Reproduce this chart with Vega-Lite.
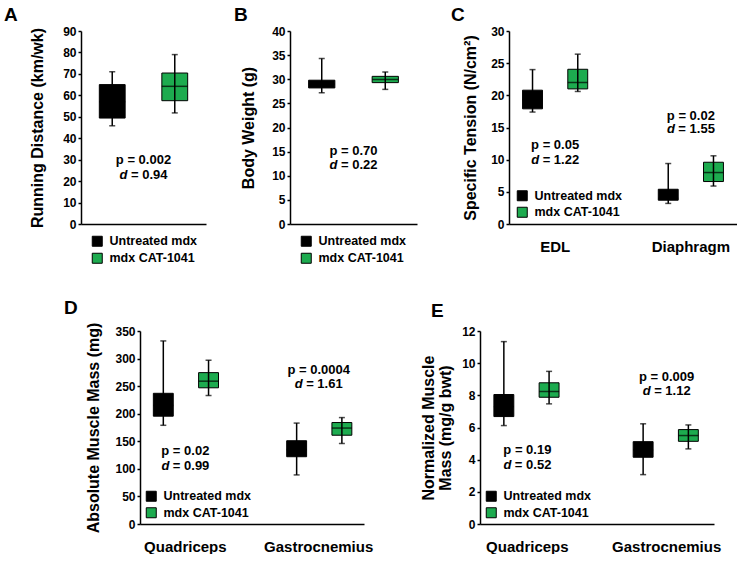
{
  "$schema": "https://vega.github.io/schema/vega-lite/v6.json",
  "padding": {"left": 1, "top": 6, "right": 0, "bottom": 0},
  "background": "white",
  "config": {
    "font": "Liberation Sans",
    "view": {"stroke": null},
    "axis": {"labelFont": "Liberation Sans", "labelFontWeight": "bold", "labelFontSize": 12, "labelColor": "black", "titleFont": "Liberation Sans", "titleFontWeight": "bold", "titleFontSize": 16, "titleColor": "black", "domainColor": "black", "tickColor": "black", "grid": false, "domainWidth": 1.5, "tickWidth": 1.5, "tickSize": 3, "labelPadding": 2, "titlePadding": 12, "titleLineHeight": 17},
    "axisX": {"labelFontSize": 15, "labelPadding": 15, "ticks": false, "labelAngle": 0},
    "legend": {"orient": "none", "title": null, "symbolType": "square", "symbolSize": 100, "symbolStrokeColor": "black", "symbolStrokeWidth": 1, "labelFontSize": 12.5, "labelFontWeight": "bold", "labelFont": "Liberation Sans", "labelColor": "black", "rowPadding": 2, "labelOffset": 6, "padding": 0, "direction": "vertical", "symbolOpacity": 1},
    "title": {"fontSize": 19, "fontWeight": "bold", "font": "Liberation Sans", "color": "black", "anchor": "start", "frame": "group"}
  },
  "datasets": {
    "boxes": [
      {"panel": "A", "cat": "all", "grp": "Untreated mdx", "lo": 45.8, "q1": 49.4, "med": 57, "q3": 65, "hi": 71},
      {"panel": "A", "cat": "all", "grp": "mdx CAT-1041", "lo": 51.8, "q1": 57.5, "med": 64.2, "q3": 70.4, "hi": 79},
      {"panel": "B", "cat": "all", "grp": "Untreated mdx", "lo": 27.2, "q1": 28.2, "med": 29, "q3": 29.8, "hi": 34.3},
      {"panel": "B", "cat": "all", "grp": "mdx CAT-1041", "lo": 27.9, "q1": 29.3, "med": 29.95, "q3": 30.6, "hi": 31.5},
      {"panel": "C", "cat": "EDL", "grp": "Untreated mdx", "lo": 17.4, "q1": 17.9, "med": 19.3, "q3": 20.8, "hi": 24.0},
      {"panel": "C", "cat": "EDL", "grp": "mdx CAT-1041", "lo": 20.6, "q1": 21.0, "med": 22.0, "q3": 24.05, "hi": 26.4},
      {"panel": "C", "cat": "Diaphragm", "grp": "Untreated mdx", "lo": 3.2, "q1": 3.7, "med": 4.0, "q3": 5.4, "hi": 9.4},
      {"panel": "C", "cat": "Diaphragm", "grp": "mdx CAT-1041", "lo": 5.9, "q1": 6.6, "med": 8.0, "q3": 9.6, "hi": 10.6},
      {"panel": "D", "cat": "Quadriceps", "grp": "Untreated mdx", "lo": 179, "q1": 195.5, "med": 215, "q3": 237, "hi": 332},
      {"panel": "D", "cat": "Quadriceps", "grp": "mdx CAT-1041", "lo": 233, "q1": 247, "med": 259, "q3": 274.5, "hi": 297},
      {"panel": "D", "cat": "Gastrocnemius", "grp": "Untreated mdx", "lo": 89, "q1": 122, "med": 135, "q3": 151, "hi": 183},
      {"panel": "D", "cat": "Gastrocnemius", "grp": "mdx CAT-1041", "lo": 146, "q1": 161, "med": 174, "q3": 184, "hi": 193},
      {"panel": "E", "cat": "Quadriceps", "grp": "Untreated mdx", "lo": 6.12, "q1": 6.68, "med": 7.3, "q3": 8.05, "hi": 11.34},
      {"panel": "E", "cat": "Quadriceps", "grp": "mdx CAT-1041", "lo": 7.47, "q1": 7.88, "med": 8.24, "q3": 8.78, "hi": 9.49},
      {"panel": "E", "cat": "Gastrocnemius", "grp": "Untreated mdx", "lo": 3.07, "q1": 4.15, "med": 4.6, "q3": 5.12, "hi": 6.23},
      {"panel": "E", "cat": "Gastrocnemius", "grp": "mdx CAT-1041", "lo": 4.67, "q1": 5.14, "med": 5.5, "q3": 5.87, "hi": 6.16}
    ],
    "notes": [
      {"panel": "A", "cat": "all", "yp": 30, "yd": 23, "p": "p = 0.002", "d": "= 0.94"},
      {"panel": "B", "cat": "all", "yp": 15.1, "yd": 12.2, "p": "p = 0.70", "d": "= 0.22"},
      {"panel": "C", "cat": "EDL", "yp": 12.3, "yd": 10.0, "p": "p = 0.05", "d": "= 1.22"},
      {"panel": "C", "cat": "Diaphragm", "yp": 16.8, "yd": 14.7, "p": "p = 0.02", "d": "= 1.55"},
      {"panel": "D", "cat": "Quadriceps", "yp": 133, "yd": 105.5, "p": "p = 0.02", "d": "= 0.99"},
      {"panel": "D", "cat": "Gastrocnemius", "yp": 279, "yd": 253.4, "p": "p = 0.0004", "d": "= 1.61"},
      {"panel": "E", "cat": "Quadriceps", "yp": 4.6, "yd": 3.65, "p": "p = 0.19", "d": "= 0.52"},
      {"panel": "E", "cat": "Gastrocnemius", "yp": 9.17, "yd": 8.26, "p": "p = 0.009", "d": "= 1.12"}
    ]
  },
  "spacing": 33,
  "resolve": {"scale": {"color": "independent"}, "legend": {"color": "independent"}},
  "vconcat": [
    {
      "bounds": "flush",
      "spacing": 0,
      "resolve": {"scale": {"color": "independent"}, "legend": {"color": "independent"}},
      "hconcat": [
        {"width": 80, "height": 10, "data": {"values": [{}]}, "mark": {"type": "point", "opacity": 0}, "encoding": {}},
        {
          "width": 125, "height": 193,
          "title": {"text": "A", "dx": -77, "offset": 0},
          "layer": [
            {"data": {"name": "boxes"}, "transform": [{"filter": "datum.panel === 'A'"}],
             "encoding": {"x": {"field": "grp", "type": "nominal", "sort": ["Untreated mdx", "mdx CAT-1041"], "scale": {"paddingInner": 0.587, "paddingOuter": 0.293}, "axis": {"labels": false, "ticks": false, "title": null}}},
             "layer": [
              {"mark": {"type": "bar", "stroke": "black", "strokeWidth": 1},
               "encoding": {"y": {"field": "q1", "type": "quantitative", "title": "Running Distance (km/wk)", "scale": {"domain": [0, 90], "nice": false}, "axis": {"values": [0, 10, 20, 30, 40, 50, 60, 70, 80, 90], "titlePadding": 17}}, "y2": {"field": "q3"},
                 "color": {"field": "grp", "type": "nominal", "scale": {"domain": ["Untreated mdx", "mdx CAT-1041"], "range": ["black", "#1DAB4F"]}, "legend": {"legendX": 10, "legendY": 204}}}},
              {"mark": {"type": "rule", "color": "black", "strokeWidth": 1.5}, "encoding": {"y": {"field": "lo", "type": "quantitative", "title": "Running Distance (km/wk)", "axis": {"values": [0, 10, 20, 30, 40, 50, 60, 70, 80, 90], "titlePadding": 17}}, "y2": {"field": "hi"}}},
              {"mark": {"type": "tick", "color": "black", "size": 6, "thickness": 1.5}, "encoding": {"y": {"field": "lo", "type": "quantitative", "title": "Running Distance (km/wk)", "axis": {"values": [0, 10, 20, 30, 40, 50, 60, 70, 80, 90], "titlePadding": 17}}}},
              {"mark": {"type": "tick", "color": "black", "size": 6, "thickness": 1.5}, "encoding": {"y": {"field": "hi", "type": "quantitative", "title": "Running Distance (km/wk)", "axis": {"values": [0, 10, 20, 30, 40, 50, 60, 70, 80, 90], "titlePadding": 17}}}},
              {"mark": {"type": "tick", "color": "black", "size": 26, "thickness": 1.5}, "encoding": {"y": {"field": "med", "type": "quantitative", "title": "Running Distance (km/wk)", "axis": {"values": [0, 10, 20, 30, 40, 50, 60, 70, 80, 90], "titlePadding": 17}}}}
             ]},
            {"data": {"name": "notes"}, "transform": [{"filter": "datum.panel === 'A'"}],
             "layer": [
              {"mark": {"type": "text", "fontSize": 13, "fontWeight": "bold", "align": "center", "baseline": "middle", "color": "black"}, "encoding": {"y": {"field": "yp", "type": "quantitative", "title": "Running Distance (km/wk)", "axis": {"values": [0, 10, 20, 30, 40, 50, 60, 70, 80, 90], "titlePadding": 17}}, "text": {"field": "p"}}},
              {"mark": {"type": "text", "text": "d", "fontSize": 13, "fontWeight": "bold", "fontStyle": "italic", "align": "right", "dx": -16, "baseline": "middle", "color": "black"}, "encoding": {"y": {"field": "yd", "type": "quantitative", "title": "Running Distance (km/wk)", "axis": {"values": [0, 10, 20, 30, 40, 50, 60, 70, 80, 90], "titlePadding": 17}}}},
              {"mark": {"type": "text", "fontSize": 13, "fontWeight": "bold", "align": "left", "dx": -12.5, "baseline": "middle", "color": "black"}, "encoding": {"y": {"field": "yd", "type": "quantitative", "title": "Running Distance (km/wk)", "axis": {"values": [0, 10, 20, 30, 40, 50, 60, 70, 80, 90], "titlePadding": 17}}, "text": {"field": "d"}}}
             ]}
          ]
        },
        {"width": 84, "height": 10, "data": {"values": [{}]}, "mark": {"type": "point", "opacity": 0}, "encoding": {}},
        {
          "width": 127, "height": 193,
          "title": {"text": "B", "dx": -56, "offset": 0},
          "layer": [
            {"data": {"name": "boxes"}, "transform": [{"filter": "datum.panel === 'B'"}],
             "encoding": {"x": {"field": "grp", "type": "nominal", "sort": ["Untreated mdx", "mdx CAT-1041"], "scale": {"paddingInner": 0.587, "paddingOuter": 0.293}, "axis": {"labels": false, "ticks": false, "title": null}}},
             "layer": [
              {"mark": {"type": "bar", "stroke": "black", "strokeWidth": 1},
               "encoding": {"y": {"field": "q1", "type": "quantitative", "title": "Body Weight (g)", "scale": {"domain": [0, 40], "nice": false}, "axis": {"values": [0, 5, 10, 15, 20, 25, 30, 35, 40], "titlePadding": 15}}, "y2": {"field": "q3"},
                 "color": {"field": "grp", "type": "nominal", "scale": {"domain": ["Untreated mdx", "mdx CAT-1041"], "range": ["black", "#1DAB4F"]}, "legend": {"legendX": 10, "legendY": 204}}}},
              {"mark": {"type": "rule", "color": "black", "strokeWidth": 1.5}, "encoding": {"y": {"field": "lo", "type": "quantitative", "title": "Body Weight (g)", "axis": {"values": [0, 5, 10, 15, 20, 25, 30, 35, 40], "titlePadding": 15}}, "y2": {"field": "hi"}}},
              {"mark": {"type": "tick", "color": "black", "size": 6, "thickness": 1.5}, "encoding": {"y": {"field": "lo", "type": "quantitative", "title": "Body Weight (g)", "axis": {"values": [0, 5, 10, 15, 20, 25, 30, 35, 40], "titlePadding": 15}}}},
              {"mark": {"type": "tick", "color": "black", "size": 6, "thickness": 1.5}, "encoding": {"y": {"field": "hi", "type": "quantitative", "title": "Body Weight (g)", "axis": {"values": [0, 5, 10, 15, 20, 25, 30, 35, 40], "titlePadding": 15}}}},
              {"mark": {"type": "tick", "color": "black", "size": 26, "thickness": 1.5}, "encoding": {"y": {"field": "med", "type": "quantitative", "title": "Body Weight (g)", "axis": {"values": [0, 5, 10, 15, 20, 25, 30, 35, 40], "titlePadding": 15}}}}
             ]},
            {"data": {"name": "notes"}, "transform": [{"filter": "datum.panel === 'B'"}],
             "layer": [
              {"mark": {"type": "text", "fontSize": 13, "fontWeight": "bold", "align": "center", "baseline": "middle", "color": "black"}, "encoding": {"y": {"field": "yp", "type": "quantitative", "title": "Body Weight (g)", "axis": {"values": [0, 5, 10, 15, 20, 25, 30, 35, 40], "titlePadding": 15}}, "text": {"field": "p"}}},
              {"mark": {"type": "text", "text": "d", "fontSize": 13, "fontWeight": "bold", "fontStyle": "italic", "align": "right", "dx": -16, "baseline": "middle", "color": "black"}, "encoding": {"y": {"field": "yd", "type": "quantitative", "title": "Body Weight (g)", "axis": {"values": [0, 5, 10, 15, 20, 25, 30, 35, 40], "titlePadding": 15}}}},
              {"mark": {"type": "text", "fontSize": 13, "fontWeight": "bold", "align": "left", "dx": -12.5, "baseline": "middle", "color": "black"}, "encoding": {"y": {"field": "yd", "type": "quantitative", "title": "Body Weight (g)", "axis": {"values": [0, 5, 10, 15, 20, 25, 30, 35, 40], "titlePadding": 15}}, "text": {"field": "d"}}}
             ]}
          ]
        },
        {"width": 92, "height": 10, "data": {"values": [{}]}, "mark": {"type": "point", "opacity": 0}, "encoding": {}},
        {
          "width": 228, "height": 193,
          "title": {"text": "C", "dx": -58, "offset": 0},
          "layer": [
            {"data": {"name": "boxes"}, "transform": [{"filter": "datum.panel === 'C'"}],
             "encoding": {"x": {"field": "cat", "type": "nominal", "sort": ["EDL", "Diaphragm"], "scale": {"paddingInner": 0.5, "paddingOuter": 0.09}, "axis": {"title": null}},
               "xOffset": {"field": "grp", "type": "nominal", "sort": ["Untreated mdx", "mdx CAT-1041"], "scale": {"paddingInner": 0.56, "paddingOuter": 0.03}}},
             "layer": [
              {"mark": {"type": "bar", "stroke": "black", "strokeWidth": 1},
               "encoding": {"y": {"field": "q1", "type": "quantitative", "title": "Specific Tension (N/cm²)", "scale": {"domain": [0, 30], "nice": false}, "axis": {"values": [0, 5, 10, 15, 20, 25, 30], "titlePadding": 12}}, "y2": {"field": "q3"},
                 "color": {"field": "grp", "type": "nominal", "scale": {"domain": ["Untreated mdx", "mdx CAT-1041"], "range": ["black", "#1DAB4F"]}, "legend": {"legendX": 7, "legendY": 158.5, "rowPadding": 1.5}}}},
              {"mark": {"type": "rule", "color": "black", "strokeWidth": 1.5}, "encoding": {"y": {"field": "lo", "type": "quantitative", "title": "Specific Tension (N/cm²)", "axis": {"values": [0, 5, 10, 15, 20, 25, 30], "titlePadding": 12}}, "y2": {"field": "hi"}}},
              {"mark": {"type": "tick", "color": "black", "size": 6, "thickness": 1.5}, "encoding": {"y": {"field": "lo", "type": "quantitative", "title": "Specific Tension (N/cm²)", "axis": {"values": [0, 5, 10, 15, 20, 25, 30], "titlePadding": 12}}}},
              {"mark": {"type": "tick", "color": "black", "size": 6, "thickness": 1.5}, "encoding": {"y": {"field": "hi", "type": "quantitative", "title": "Specific Tension (N/cm²)", "axis": {"values": [0, 5, 10, 15, 20, 25, 30], "titlePadding": 12}}}},
              {"mark": {"type": "tick", "color": "black", "size": 20, "thickness": 1.5}, "encoding": {"y": {"field": "med", "type": "quantitative", "title": "Specific Tension (N/cm²)", "axis": {"values": [0, 5, 10, 15, 20, 25, 30], "titlePadding": 12}}}}
             ]},
            {"data": {"name": "notes"}, "transform": [{"filter": "datum.panel === 'C'"}],
             "encoding": {"x": {"field": "cat", "type": "nominal", "sort": ["EDL", "Diaphragm"], "title": null}},
             "layer": [
              {"mark": {"type": "text", "fontSize": 13, "fontWeight": "bold", "align": "center", "baseline": "middle", "color": "black"}, "encoding": {"y": {"field": "yp", "type": "quantitative", "title": "Specific Tension (N/cm²)", "axis": {"values": [0, 5, 10, 15, 20, 25, 30], "titlePadding": 12}}, "text": {"field": "p"}}},
              {"mark": {"type": "text", "text": "d", "fontSize": 13, "fontWeight": "bold", "fontStyle": "italic", "align": "right", "dx": -16, "baseline": "middle", "color": "black"}, "encoding": {"y": {"field": "yd", "type": "quantitative", "title": "Specific Tension (N/cm²)", "axis": {"values": [0, 5, 10, 15, 20, 25, 30], "titlePadding": 12}}}},
              {"mark": {"type": "text", "fontSize": 13, "fontWeight": "bold", "align": "left", "dx": -12.5, "baseline": "middle", "color": "black"}, "encoding": {"y": {"field": "yd", "type": "quantitative", "title": "Specific Tension (N/cm²)", "axis": {"values": [0, 5, 10, 15, 20, 25, 30], "titlePadding": 12}}, "text": {"field": "d"}}}
             ]}
          ]
        }
      ]
    },
    {
      "bounds": "flush",
      "spacing": 0,
      "resolve": {"scale": {"color": "independent"}, "legend": {"color": "independent"}},
      "hconcat": [
        {"width": 139, "height": 10, "data": {"values": [{}]}, "mark": {"type": "point", "opacity": 0}, "encoding": {}},
        {
          "width": 224, "height": 193,
          "title": {"text": "D", "dx": -76, "offset": 4},
          "layer": [
            {"data": {"name": "boxes"}, "transform": [{"filter": "datum.panel === 'D'"}],
             "encoding": {"x": {"field": "cat", "type": "nominal", "sort": ["Quadriceps", "Gastrocnemius"], "scale": {"paddingInner": 0.5, "paddingOuter": 0.09}, "axis": {"title": null}},
               "xOffset": {"field": "grp", "type": "nominal", "sort": ["Untreated mdx", "mdx CAT-1041"], "scale": {"paddingInner": 0.56, "paddingOuter": 0.03}}},
             "layer": [
              {"mark": {"type": "bar", "stroke": "black", "strokeWidth": 1},
               "encoding": {"y": {"field": "q1", "type": "quantitative", "title": "Absolute Muscle Mass (mg)", "scale": {"domain": [0, 350], "nice": false}, "axis": {"values": [0, 50, 100, 150, 200, 250, 300, 350], "titlePadding": 13}}, "y2": {"field": "q3"},
                 "color": {"field": "grp", "type": "nominal", "scale": {"domain": ["Untreated mdx", "mdx CAT-1041"], "range": ["black", "#1DAB4F"]}, "legend": {"legendX": 5, "legendY": 159, "rowPadding": 1.5}}}},
              {"mark": {"type": "rule", "color": "black", "strokeWidth": 1.5}, "encoding": {"y": {"field": "lo", "type": "quantitative", "title": "Absolute Muscle Mass (mg)", "axis": {"values": [0, 50, 100, 150, 200, 250, 300, 350], "titlePadding": 13}}, "y2": {"field": "hi"}}},
              {"mark": {"type": "tick", "color": "black", "size": 6, "thickness": 1.5}, "encoding": {"y": {"field": "lo", "type": "quantitative", "title": "Absolute Muscle Mass (mg)", "axis": {"values": [0, 50, 100, 150, 200, 250, 300, 350], "titlePadding": 13}}}},
              {"mark": {"type": "tick", "color": "black", "size": 6, "thickness": 1.5}, "encoding": {"y": {"field": "hi", "type": "quantitative", "title": "Absolute Muscle Mass (mg)", "axis": {"values": [0, 50, 100, 150, 200, 250, 300, 350], "titlePadding": 13}}}},
              {"mark": {"type": "tick", "color": "black", "size": 20, "thickness": 1.5}, "encoding": {"y": {"field": "med", "type": "quantitative", "title": "Absolute Muscle Mass (mg)", "axis": {"values": [0, 50, 100, 150, 200, 250, 300, 350], "titlePadding": 13}}}}
             ]},
            {"data": {"name": "notes"}, "transform": [{"filter": "datum.panel === 'D'"}],
             "encoding": {"x": {"field": "cat", "type": "nominal", "sort": ["Quadriceps", "Gastrocnemius"], "title": null}},
             "layer": [
              {"mark": {"type": "text", "fontSize": 13, "fontWeight": "bold", "align": "center", "baseline": "middle", "color": "black"}, "encoding": {"y": {"field": "yp", "type": "quantitative", "title": "Absolute Muscle Mass (mg)", "axis": {"values": [0, 50, 100, 150, 200, 250, 300, 350], "titlePadding": 13}}, "text": {"field": "p"}}},
              {"mark": {"type": "text", "text": "d", "fontSize": 13, "fontWeight": "bold", "fontStyle": "italic", "align": "right", "dx": -16, "baseline": "middle", "color": "black"}, "encoding": {"y": {"field": "yd", "type": "quantitative", "title": "Absolute Muscle Mass (mg)", "axis": {"values": [0, 50, 100, 150, 200, 250, 300, 350], "titlePadding": 13}}}},
              {"mark": {"type": "text", "fontSize": 13, "fontWeight": "bold", "align": "left", "dx": -12.5, "baseline": "middle", "color": "black"}, "encoding": {"y": {"field": "yd", "type": "quantitative", "title": "Absolute Muscle Mass (mg)", "axis": {"values": [0, 50, 100, 150, 200, 250, 300, 350], "titlePadding": 13}}, "text": {"field": "d"}}}
             ]}
          ]
        },
        {"width": 116, "height": 10, "data": {"values": [{}]}, "mark": {"type": "point", "opacity": 0}, "encoding": {}},
        {
          "width": 234, "height": 193,
          "title": {"text": "E", "dx": -49, "offset": 4},
          "layer": [
            {"data": {"name": "boxes"}, "transform": [{"filter": "datum.panel === 'E'"}],
             "encoding": {"x": {"field": "cat", "type": "nominal", "sort": ["Quadriceps", "Gastrocnemius"], "scale": {"paddingInner": 0.5, "paddingOuter": 0.09}, "axis": {"title": null}},
               "xOffset": {"field": "grp", "type": "nominal", "sort": ["Untreated mdx", "mdx CAT-1041"], "scale": {"paddingInner": 0.56, "paddingOuter": 0.03}}},
             "layer": [
              {"mark": {"type": "bar", "stroke": "black", "strokeWidth": 1},
               "encoding": {"y": {"field": "q1", "type": "quantitative", "title": ["Normalized Muscle", "Mass (mg/g bwt)"], "scale": {"domain": [0, 12], "nice": false}, "axis": {"values": [0, 2, 4, 6, 8, 10, 12], "titlePadding": 8}}, "y2": {"field": "q3"},
                 "color": {"field": "grp", "type": "nominal", "scale": {"domain": ["Untreated mdx", "mdx CAT-1041"], "range": ["black", "#1DAB4F"]}, "legend": {"legendX": 5, "legendY": 159, "rowPadding": 1.5}}}},
              {"mark": {"type": "rule", "color": "black", "strokeWidth": 1.5}, "encoding": {"y": {"field": "lo", "type": "quantitative", "title": ["Normalized Muscle", "Mass (mg/g bwt)"], "axis": {"values": [0, 2, 4, 6, 8, 10, 12], "titlePadding": 8}}, "y2": {"field": "hi"}}},
              {"mark": {"type": "tick", "color": "black", "size": 6, "thickness": 1.5}, "encoding": {"y": {"field": "lo", "type": "quantitative", "title": ["Normalized Muscle", "Mass (mg/g bwt)"], "axis": {"values": [0, 2, 4, 6, 8, 10, 12], "titlePadding": 8}}}},
              {"mark": {"type": "tick", "color": "black", "size": 6, "thickness": 1.5}, "encoding": {"y": {"field": "hi", "type": "quantitative", "title": ["Normalized Muscle", "Mass (mg/g bwt)"], "axis": {"values": [0, 2, 4, 6, 8, 10, 12], "titlePadding": 8}}}},
              {"mark": {"type": "tick", "color": "black", "size": 20, "thickness": 1.5}, "encoding": {"y": {"field": "med", "type": "quantitative", "title": ["Normalized Muscle", "Mass (mg/g bwt)"], "axis": {"values": [0, 2, 4, 6, 8, 10, 12], "titlePadding": 8}}}}
             ]},
            {"data": {"name": "notes"}, "transform": [{"filter": "datum.panel === 'E'"}],
             "encoding": {"x": {"field": "cat", "type": "nominal", "sort": ["Quadriceps", "Gastrocnemius"], "title": null}},
             "layer": [
              {"mark": {"type": "text", "fontSize": 13, "fontWeight": "bold", "align": "center", "baseline": "middle", "color": "black"}, "encoding": {"y": {"field": "yp", "type": "quantitative", "title": ["Normalized Muscle", "Mass (mg/g bwt)"], "axis": {"values": [0, 2, 4, 6, 8, 10, 12], "titlePadding": 8}}, "text": {"field": "p"}}},
              {"mark": {"type": "text", "text": "d", "fontSize": 13, "fontWeight": "bold", "fontStyle": "italic", "align": "right", "dx": -16, "baseline": "middle", "color": "black"}, "encoding": {"y": {"field": "yd", "type": "quantitative", "title": ["Normalized Muscle", "Mass (mg/g bwt)"], "axis": {"values": [0, 2, 4, 6, 8, 10, 12], "titlePadding": 8}}}},
              {"mark": {"type": "text", "fontSize": 13, "fontWeight": "bold", "align": "left", "dx": -12.5, "baseline": "middle", "color": "black"}, "encoding": {"y": {"field": "yd", "type": "quantitative", "title": ["Normalized Muscle", "Mass (mg/g bwt)"], "axis": {"values": [0, 2, 4, 6, 8, 10, 12], "titlePadding": 8}}, "text": {"field": "d"}}}
             ]}
          ]
        }
      ]
    }
  ]
}
